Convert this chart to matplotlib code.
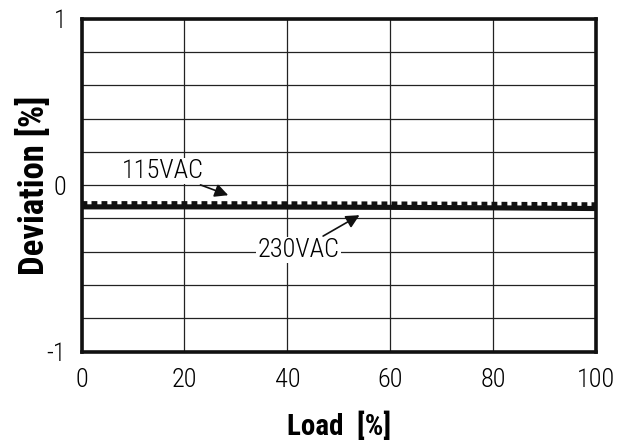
import matplotlib.pyplot as plt
from matplotlib import font_manager

names = set(f.name for f in font_manager.fontManager.ttflist)
prefs = ['Roboto Condensed', 'Liberation Sans Narrow', 'Archivo Narrow',
         'PT Sans Narrow', 'IBM Plex Sans Condensed', 'Barlow Semi Condensed',
         'Encode Sans Condensed', 'Asap Condensed', 'Liberation Sans']
fam = [p for p in prefs if p in names][0]
plt.rcParams['font.family'] = [fam, 'DejaVu Sans']

# data
load = [0, 20, 40, 60, 80, 100]
dev_115 = [-0.108, -0.108, -0.109, -0.11, -0.112, -0.115]
dev_230 = [-0.13, -0.13, -0.131, -0.133, -0.136, -0.14]

fig = plt.figure(figsize=(6.27, 4.47), dpi=100)
ax = fig.add_axes([0.130, 0.2136, 0.821, 0.744])

ax.plot(load, dev_230, color='#111111', lw=3.7, solid_capstyle='butt', zorder=3)
ax.plot(load, dev_115, color='#111111', lw=3.0, linestyle=(0, (1.4, 1.0)),
        dash_capstyle='butt', zorder=4)

ax.set_xlim(0, 100)
ax.set_ylim(-1, 1)
ax.set_xticks([0, 20, 40, 60, 80, 100])
ax.set_yticks([-1, 0, 1])
ax.set_yticklabels(['-1', '0', '1'])
ax.set_yticks([i / 5 for i in range(-5, 6)], minor=True)
ax.grid(True, which='both', color='#222222', lw=0.9)
ax.tick_params(which='both', length=0, labelsize=19)
ax.tick_params(axis='x', pad=12)
ax.tick_params(axis='y', pad=11)
for lab in ax.get_xticklabels() + ax.get_yticklabels():
    lab.set_fontweight('light')
for s in ax.spines.values():
    s.set_linewidth(2.6)
    s.set_color('#111111')
    s.set_zorder(5)

ax.set_xlabel('Load  [%]', fontsize=21, fontweight='bold', labelpad=14)
ax.set_ylabel('Deviation [%]', fontsize=25, fontweight='bold', labelpad=-3)

box = dict(facecolor='white', edgecolor='none', pad=1)
arrow = dict(arrowstyle='-|>', color='#111111', lw=1.2,
             mutation_scale=20, shrinkA=1, shrinkB=0)
ax.annotate('115VAC', xy=(28.5, -0.06), xytext=(15.9, 0.085),
            ha='center', va='center', fontsize=19, fontweight='light',
            bbox=box, arrowprops=arrow)
ax.annotate('230VAC', xy=(54.0, -0.18), xytext=(42.2, -0.39),
            ha='center', va='center', fontsize=19, fontweight='light',
            bbox=box, arrowprops=arrow)

fig.savefig('out.png', dpi=100)
